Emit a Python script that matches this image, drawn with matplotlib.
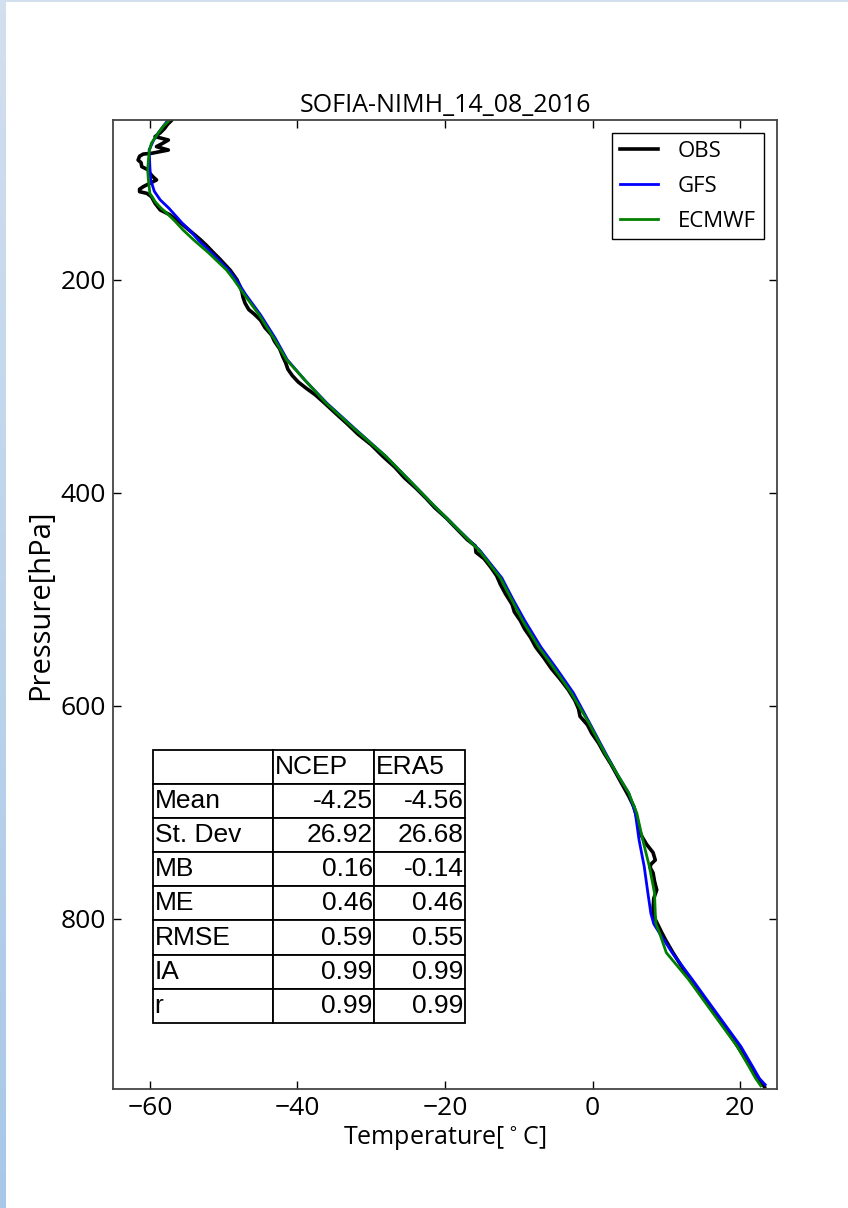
import matplotlib
matplotlib.use('Agg')
import matplotlib.pyplot as plt
import numpy as np

plt.rcParams['font.family'] = 'Open Sans'

# OBS radiosonde profile (pressure hPa, temperature C)
obs_p = [50.6, 54, 57.8, 62, 65.6, 68.8, 72, 75.0, 78.2, 81.3, 82, 84, 87.6, 90, 93.8, 97.0, 100,
         103.2, 106.3, 109.5, 112.6, 115, 117.3, 118.9, 122.0, 128.2, 134.5, 139, 143.9, 148,
         153.3, 158, 162.7, 168, 175.2, 180, 186, 191.2, 196, 200, 206, 212, 216, 222, 228, 232,
         238, 245, 252, 258, 265, 272, 278, 284, 290, 296, 302, 308, 316, 325, 335, 345, 355, 366,
         376, 386, 396, 405, 414, 424, 434, 444, 450, 456, 462, 470, 478, 486, 495, 505, 512, 520,
         528, 536, 545, 555, 565, 575, 585, 595, 603, 610, 618, 626, 635, 645, 655, 665, 675, 685,
         695, 705, 712, 718, 723, 730, 738, 745, 749, 752, 757, 765, 773, 781, 790, 798, 805, 812,
         820, 832, 845, 857, 870, 885, 900, 915, 930, 940, 948, 955, 958]
obs_t = [-57.1, -57.6, -58.0, -58.6, -59.3, -57.5, -58.3, -59.1, -57.5, -59.8, -60.9, -61.4, -61.6,
         -61.2, -61.1, -60.2, -60.0, -59.6, -59.1, -60.0, -60.9, -61.4, -61.4, -60.4, -59.8, -59.3,
         -58.6, -57.3, -56.4, -55.6, -54.7, -53.9, -53.1, -52.3, -51.3, -50.6, -49.8, -49.1, -48.6,
         -48.2, -47.8, -47.5, -47.4, -47.1, -46.6, -45.9, -45.0, -44.4, -43.5, -43.1, -42.4, -42.0,
         -41.6, -41.3, -40.7, -39.9, -38.8, -37.6, -36.3, -34.9, -33.3, -31.8, -30.0, -28.4, -26.8,
         -25.5, -23.9, -22.6, -21.4, -19.8, -18.4, -17.0, -15.9, -15.8, -14.7, -13.8, -13.0, -12.5,
         -11.8, -10.9, -10.6, -9.8, -9.2, -8.4, -7.7, -6.6, -5.6, -4.4, -3.3, -2.4, -1.9, -1.7, -0.7,
         -0.1, 0.8, 1.6, 2.5, 3.3, 4.1, 4.9, 5.6, 6.0, 6.2, 6.4, 6.7, 7.3, 8.2, 8.5, 7.9, 7.8, 8.2,
         8.4, 8.7, 8.3, 8.2, 8.3, 8.8, 9.3, 9.9, 10.9, 12.1, 13.2, 14.6, 16.2, 17.7, 19.2, 20.6, 21.6,
         22.3, 23.0, 23.3]

# GFS model profile
gfs_p = [50.6, 56, 62.5, 69, 78, 94, 106, 117, 125, 133, 140, 147, 155, 163,
         175, 191, 200, 214, 233, 255, 275, 295, 316, 340, 366, 390, 410, 432, 454, 480, 500,
         520, 545, 565, 588, 615, 645, 665, 682, 701, 726, 751, 776, 795, 805, 815, 832, 857, 880,
         901, 920, 939, 950, 956]
gfs_t = [-57.6, -58.2, -58.9, -59.5, -60.1, -60.0, -59.9, -59.4, -58.6, -57.4, -56.5, -55.6, -54.4,
         -53.4, -51.6, -49.3, -48.3, -47.0, -45.0, -43.0, -41.4, -38.9, -36.0, -32.2,
         -28.0, -24.6, -21.8, -18.6, -15.3, -12.3, -10.8, -9.2, -7.0, -4.9, -2.6, -0.5, 1.8, 3.4,
         4.9, 5.8, 6.3, 7.0, 7.5, 7.9, 8.3, 9.2, 10.8, 13.5, 15.9, 18.1, 20.1, 21.7, 22.6, 23.4]

# ECMWF model profile
ecm_p = [50.6, 56, 62.5, 71.9, 80, 87.6, 97, 106.3, 118.9, 126.6, 132, 137.6, 145, 153.3, 163, 175,
         191, 200, 214, 233, 255, 275, 295, 316, 340, 366, 390, 410, 432, 454, 480, 500, 520, 545,
         565, 588, 615, 645, 665, 682, 701, 726, 751, 776, 795, 805, 812, 832, 857, 880, 901, 920,
         939, 950, 957]
ecm_t = [-57.4, -58.2, -58.9, -59.8, -60.1, -60.2, -60.3, -60.2, -60.0, -59.3, -58.6, -57.7, -56.6,
         -55.5, -54.0, -52.0, -49.6, -48.6, -47.2, -45.2, -43.2, -41.5, -38.9, -36.1, -32.3, -28.0,
         -24.6, -21.8, -18.6, -15.4, -12.5, -11.0, -9.5, -7.3, -5.2, -2.9, -0.6, 1.7, 3.4, 4.9, 6.0,
         6.8, 7.7, 8.4, 8.5, 8.6, 9.0, 10.0, 13.0, 15.4, 17.6, 19.6, 21.2, 22.1, 22.8]

# statistics table
stat_names = ['Mean', 'St. Dev', 'MB', 'ME', 'RMSE', 'IA', 'r']
ncep_vals = ['-4.25', '26.92', '0.16', '0.46', '0.59', '0.99', '0.99']
era5_vals = ['-4.56', '26.68', '-0.14', '0.46', '0.55', '0.99', '0.99']
col_names = ['', 'NCEP', 'ERA5']

fig = plt.figure(figsize=(8.48, 12.08), dpi=100)

# thin light-blue screen border on the left / top
band = fig.add_axes([0, 0, 6 / 848, 1])
band.imshow(np.linspace(0, 1, 100).reshape(-1, 1), aspect='auto',
            cmap=matplotlib.colors.LinearSegmentedColormap.from_list('b', ['#d2dfee', '#a9c8e8']))
band.axis('off')
topband = fig.add_axes([6 / 848, 1 - 1.5 / 1208, 1 - 6 / 848, 1.5 / 1208])
topband.axis('off')
topband.add_patch(plt.Rectangle((0, 0), 1, 1, color='#d2dfee', transform=topband.transAxes))

ax = fig.add_axes([113 / 848, 1 - 1089 / 1208, 664 / 848, 969 / 1208])

ax.plot(obs_t, obs_p, color='k', linewidth=2.6, label='OBS')
ax.plot(gfs_t, gfs_p, color='b', linewidth=2, label='GFS')
ax.plot(ecm_t, ecm_p, color='g', linewidth=2, label='ECMWF')

ax.set_xlim(-65, 25)
ax.set_ylim(960, 50)
ax.set_xticks([-60, -40, -20, 0, 20])
ax.set_yticks([200, 400, 600, 800])

ax.set_title('SOFIA-NIMH_14_08_2016', fontsize=18, pad=6)
ax.set_xlabel(r'Temperature[$^\circ$C]', fontsize=18, labelpad=3)
ax.set_ylabel('Pressure[hPa]', fontsize=21, labelpad=4)
ax.tick_params(direction='in', top=True, right=True, length=6, width=1, labelsize=19, pad=5)

for s in ax.spines.values():
    s.set_linewidth(1.3)
    s.set_color('#444444')

leg = ax.legend(loc='upper right', fontsize=16, fancybox=False, framealpha=1,
                edgecolor='k', handlelength=1.7, borderpad=0.35, labelspacing=0.62,
                borderaxespad=0.6, handletextpad=0.9)
leg.get_frame().set_linewidth(1.0)

cells = [col_names] + [[n, a, b] for n, a, b in zip(stat_names, ncep_vals, era5_vals)]
tab = ax.table(cellText=cells, cellLoc='right', colWidths=[0.386, 0.323, 0.290],
               bbox=[0.0598, 0.0684, 0.470, 0.2814])
tab.auto_set_font_size(False)
for (r, c), cell in tab.get_celld().items():
    cell.set_linewidth(1.3)
    cell.PAD = 0.015
    cell.get_text().set_fontfamily('Liberation Sans')
    cell.get_text().set_fontsize(19)
    if r == 0 or c == 0:
        cell.get_text().set_horizontalalignment('left')
        cell._loc = 'left'

fig.savefig('out.png', dpi=100, facecolor='white')
